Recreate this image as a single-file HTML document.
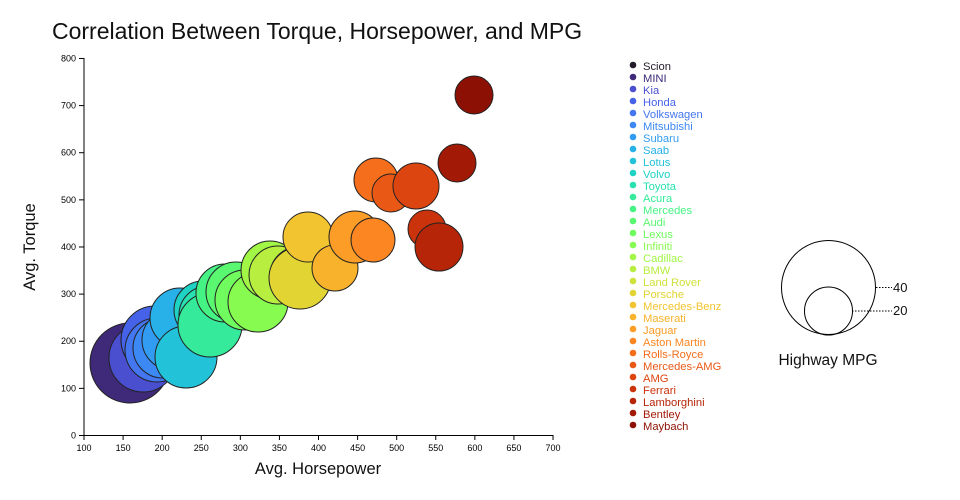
<!DOCTYPE html>
<html><head><meta charset="utf-8"><style>
body{margin:0;background:#fff}
svg{display:block;font-family:"Liberation Sans","DejaVu Sans",sans-serif}
</style></head><body>
<svg width="960" height="500" viewBox="0 0 960 500">
<text x="52" y="39" font-size="23" fill="#111">Correlation Between Torque, Horsepower, and MPG</text>
<g stroke="#000" stroke-width="1" fill="none">
<line x1="84" y1="58" x2="84" y2="435.5"/>
<line x1="83.5" y1="435.5" x2="553" y2="435.5"/>
</g>
<g id="ticks" stroke="#000"></g>
<g id="labels" font-size="9" fill="#000"></g>
<text x="318" y="474" font-size="16.5" text-anchor="middle" fill="#111">Avg. Horsepower</text>
<text transform="translate(35,247) rotate(-90)" font-size="16.5" text-anchor="middle" fill="#111">Avg. Torque</text>
<g id="bubbles" stroke="#222" stroke-width="1"></g>
<g id="legend" font-size="11.2"></g>
<g fill="none" stroke="#000" stroke-width="1">
<circle cx="828.5" cy="287.5" r="47"/>
<circle cx="828.5" cy="311" r="24"/>
<line x1="876" y1="287.5" x2="892" y2="287.5" stroke-dasharray="1.5,1.5"/>
<line x1="852" y1="311" x2="892" y2="311" stroke-dasharray="1.5,1.5"/>
</g>
<text x="893" y="292" font-size="13" fill="#111">40</text>
<text x="893" y="315" font-size="13" fill="#111">20</text>
<text x="828" y="365" font-size="15.5" text-anchor="middle" fill="#111">Highway MPG</text>
</svg>
<script>
var NS="http://www.w3.org/2000/svg";
function el(p,t,a,txt){var e=document.createElementNS(NS,t);for(var k in a)e.setAttribute(k,a[k]);if(txt!==undefined)e.textContent=txt;p.appendChild(e);return e;}
var T=document.getElementById("ticks"),L=document.getElementById("labels");
for(var v=100;v<=700;v+=50){var x=84+(v-100)*0.7817;el(T,"line",{x1:x,y1:435,x2:x,y2:440});el(L,"text",{x:x,y:451,"text-anchor":"middle"},v);}
for(var v=0;v<=800;v+=100){var y=435.5-v*0.4713;el(T,"line",{x1:79,y1:y,x2:84,y2:y});el(L,"text",{x:76,y:y+3,"text-anchor":"end"},v);}
var d=[
["Scion","#231a2a",130,362,38],["MINI","#3e2a78",130,363,40],["Kia","#4a4fd0",143,358,34],
["Honda","#4662e8",155,340,34],["Volkswagen","#4476f0",157,350,32],["Mitsubishi","#3c88f5",163,348,30],
["Subaru","#329cf2",172,340,30],["Saab","#28b0e8",180,318,30],["Lotus","#22c2d8",186,357,31],
["Volvo","#1fd2c4",203,310,29],["Toyota","#28e0b0",208,315,29],["Acura","#35ea9a",210,325,32],
["Mercedes","#45f384",225,293,29],["Audi","#5af870",236,292,30],["Lexus","#70fb5e",245,300,30],
["Infiniti","#88fb50",258,302,30],["Cadillac","#a2f646",270,270,29],["BMW","#b8ee40",278,275,29],
["Land Rover","#cfe23a",298,275,28],["Porsche","#e2d433",300,278,31],["Mercedes-Benz","#f2c42f",308,237,25],
["Maserati","#f8b22b",335,268,23],["Jaguar","#fb9d27",355,237,26],["Aston Martin","#fb8622",373,240,22],
["Rolls-Royce","#f56e1c",376,180,22],["Mercedes-AMG","#ea5816",391,193,19],["AMG","#dc4410",416,186,23],
["Ferrari","#ca330c",427,229,19],["Lamborghini","#b72508",439,247,24],["Bentley","#a21905",457,163,19],
["Maybach","#8c1003",474,95,19]];
var B=document.getElementById("bubbles"),G=document.getElementById("legend");
d.forEach(function(r,i){
 el(B,"circle",{cx:r[2],cy:r[3],r:r[4],fill:r[1]});
 var y=66+i*12;
 el(G,"circle",{cx:633,cy:y-1,r:3.3,fill:r[1]});
 el(G,"text",{x:643,y:y+4,fill:r[1]},r[0]);
});
</script>
</body></html>
